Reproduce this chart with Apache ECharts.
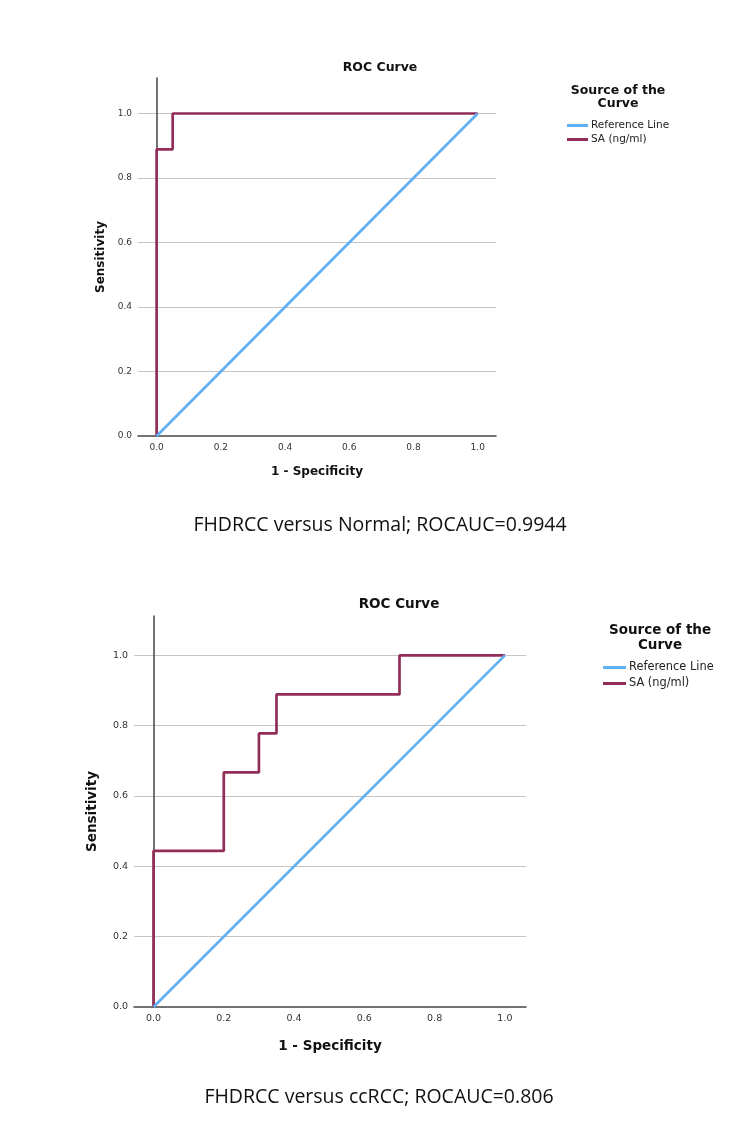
<!DOCTYPE html>
<html>
<head>
<meta charset="utf-8">
<script src="https://cdn.jsdelivr.net/npm/echarts@6/dist/echarts.min.js"></script>
<style>
  html, body { margin: 0; padding: 0; background: #fff; }
  #main { width: 736px; height: 1138px; }
</style>
</head>
<body>
<div id="main"></div>
<script>
// ROC points, FHDRCC versus Normal
var fpr1 = [0, 0, 0.05, 0.05, 1];
var tpr1 = [0, 0.889, 0.889, 1, 1];
// ROC points, FHDRCC versus ccRCC
var fpr2 = [0, 0, 0.2, 0.2, 0.3, 0.3, 0.35, 0.35, 0.7, 0.7, 1];
var tpr2 = [0, 0.444, 0.444, 0.667, 0.667, 0.778, 0.778, 0.889, 0.889, 1, 1];
// diagonal reference line
var refX = [0, 1];
var refY = [0, 1];
var tickValues = [0, 0.2, 0.4, 0.6, 0.8, 1.0];
var seriesNames = ['Reference Line', 'SA (ng/ml)'];
var captions = ['FHDRCC versus Normal; ROCAUC=0.9944', 'FHDRCC versus ccRCC; ROCAUC=0.806'];

var blue = '#60b0f4';
var maroon = '#922c58';
var font = '"DejaVu Sans", sans-serif';

function pairs(xs, ys) {
  return xs.map(function (x, i) { return [x, ys[i]]; });
}

function xAxisOf(idx, min, max, gap, nameSize, labelSize) {
  return {
    type: 'value', gridIndex: idx, min: min, max: max,
    name: '1 - Specificity', nameLocation: 'middle', nameGap: gap,
    nameTextStyle: { fontWeight: 'bold', fontSize: nameSize, color: '#111', fontFamily: font },
    axisLine: { show: true, onZero: false, lineStyle: { color: '#444', width: 1.5 } },
    axisTick: { show: false },
    splitLine: { show: false },
    axisLabel: {
      customValues: tickValues, color: '#333', fontSize: labelSize, margin: 7,
      fontFamily: font,
      formatter: function (v) { return v.toFixed(1); }
    }
  };
}

function yAxisOf(idx, max, gap, nameSize, labelSize) {
  return {
    type: 'value', gridIndex: idx, min: 0, max: max, interval: 0.2,
    name: 'Sensitivity', nameLocation: 'middle', nameGap: gap,
    nameTextStyle: { fontWeight: 'bold', fontSize: nameSize, color: '#111', fontFamily: font },
    axisLine: { show: true, lineStyle: { color: '#444', width: 1.5 } },
    axisTick: { show: false },
    splitLine: { show: true, showMinLine: false, showMaxLine: false, lineStyle: { color: '#c4c4c4', width: 1 } },
    axisLabel: {
      customValues: tickValues, color: '#333', fontSize: labelSize, margin: 6,
      fontFamily: font,
      formatter: function (v) { return v.toFixed(1); }
    }
  };
}

function lineSeries(name, idx, data, color) {
  return {
    name: name, type: 'line', xAxisIndex: idx, yAxisIndex: idx,
    data: data, symbol: 'none', animation: false,
    lineStyle: { color: color, width: 2.7 }, itemStyle: { color: color }
  };
}

function txt(x, y, text, size, bold, family) {
  return {
    type: 'text', x: x, y: y,
    style: {
      text: text, fill: '#111', fontSize: size, fontWeight: bold ? 'bold' : 'normal',
      fontFamily: family || font, textAlign: 'center', textVerticalAlign: 'middle'
    }
  };
}

function legendOf(left, top, size, iconW, gap) {
  return {
    data: seriesNames, orient: 'vertical', left: left, top: top, padding: 0,
    itemWidth: iconW, itemHeight: 3, itemGap: gap, icon: 'rect', selectedMode: false,
    textStyle: { fontSize: size, color: '#222', fontFamily: font, padding: [0, 0, 0, -2] }
  };
}

var myChart = echarts.init(document.getElementById('main'));
var option = {
  backgroundColor: '#fff',
  animation: false,
  grid: [
    { left: 138, top: 78, width: 358, height: 358 },
    { left: 134, top: 616, width: 392, height: 391 }
  ],
  xAxis: [xAxisOf(0, -0.058, 1.057, 30, 12, 9), xAxisOf(1, -0.0555, 1.06, 32, 13.5, 9.5)],
  yAxis: [yAxisOf(0, 1.11, 31, 12, 9), yAxisOf(1, 1.112, 35, 13.5, 9.5)],
  legend: [
    legendOf(567, 120, 10.5, 21, 3),
    legendOf(603, 662, 11.4, 23, 5)
  ],
  graphic: [
    txt(380, 68, 'ROC Curve', 12.5, true),
    txt(618, 91, 'Source of the', 12.5, true),
    txt(618, 104, 'Curve', 12.5, true),
    txt(380, 525, captions[0], 19.5, false, '"Open Sans", sans-serif'),
    txt(399, 604, 'ROC Curve', 13.5, true),
    txt(660, 630, 'Source of the', 13.5, true),
    txt(660, 645, 'Curve', 13.5, true),
    txt(379, 1097, captions[1], 19.5, false, '"Open Sans", sans-serif')
  ],
  series: [
    lineSeries(seriesNames[1], 0, pairs(fpr1, tpr1), maroon),
    lineSeries(seriesNames[0], 0, pairs(refX, refY), blue),
    lineSeries(seriesNames[1], 1, pairs(fpr2, tpr2), maroon),
    lineSeries(seriesNames[0], 1, pairs(refX, refY), blue)
  ]
};
myChart.setOption(option);
</script>
</body>
</html>
